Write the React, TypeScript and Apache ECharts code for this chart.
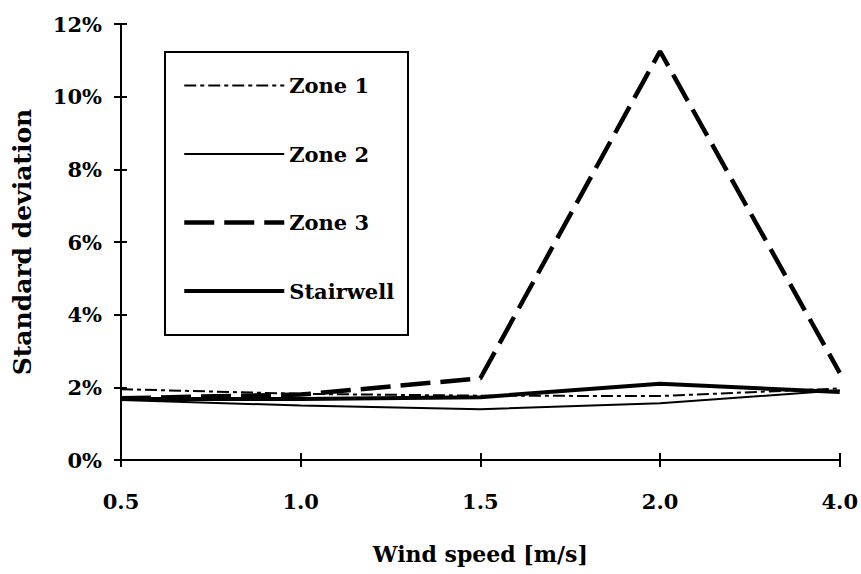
import React, { useEffect, useRef } from "react";
import * as echarts from "echarts";

const categories = ["0.5", "1.0", "1.5", "2.0", "4.0"];
const zone1 = [1.95, 1.82, 1.77, 1.76, 1.97];
const zone2 = [1.65, 1.5, 1.4, 1.56, 1.92];
const zone3 = [1.7, 1.8, 2.25, 11.25, 2.4];
const stairwell = [1.68, 1.68, 1.73, 2.1, 1.87];
const seriesNames = ["Zone 1", "Zone 2", "Zone 3", "Stairwell"];

const FONT = "DejaVu Serif";

export default function App() {
  const ref = useRef<HTMLDivElement>(null);
  useEffect(() => {
    if (!ref.current) return;
    const chart = echarts.init(ref.current, null, { renderer: "svg" });
    const axisText = { color: "#000", fontFamily: FONT, fontWeight: "bold" as const, fontSize: 21 };
    const styles: Record<string, any> = {
      "Zone 1": { color: "#000", width: 2, type: [12, 4, 4, 4] },
      "Zone 2": { color: "#000", width: 2, type: "solid" },
      "Zone 3": { color: "#000", width: 4.5, type: [30, 10] },
      Stairwell: { color: "#000", width: 4, type: "solid" },
    };
    const seriesData: Record<string, number[]> = {
      "Zone 1": zone1,
      "Zone 2": zone2,
      "Zone 3": zone3,
      Stairwell: stairwell,
    };
    const option = {
      animation: false,
      backgroundColor: "#fff",
      grid: { left: 121, right: 21, top: 24, bottom: 114, containLabel: false },
      legend: {
        orient: "vertical",
        left: 182,
        top: 75,
        padding: 0,
        itemWidth: 100,
        itemHeight: 20,
        itemGap: 47.5,
        itemStyle: { opacity: 0 },
        textStyle: { ...axisText, fontSize: 21, lineHeight: 20 },
        data: seriesNames.map((n) => ({ name: n, lineStyle: { ...styles[n] } })),
      },
      graphic: [
        {
          type: "rect",
          shape: { x: 165, y: 52, width: 243, height: 283 },
          style: { fill: "none", stroke: "#000", lineWidth: 2 },
          z: 100,
        },
      ],
      xAxis: [
        {
          type: "category",
          data: categories,
          boundaryGap: false,
          name: "Wind speed [m/s]",
          nameLocation: "middle",
          nameGap: 83,
          nameTextStyle: { ...axisText, fontSize: 22 },
          axisLine: { lineStyle: { color: "#000", width: 2 } },
          axisTick: { show: true, length: 7, lineStyle: { color: "#000", width: 2 } },
          axisLabel: { ...axisText, margin: 31 },
          splitLine: { show: false },
        },
        {
          type: "category",
          data: categories,
          boundaryGap: false,
          position: "bottom",
          axisLine: { show: false },
          axisTick: { show: true, inside: true, length: 7, lineStyle: { color: "#000", width: 2 } },
          axisLabel: { show: false },
          splitLine: { show: false },
        },
      ],
      yAxis: [
        {
          type: "value",
          min: 0,
          max: 12,
          interval: 2,
          name: "Standard deviation",
          nameLocation: "middle",
          nameGap: 86,
          nameTextStyle: { ...axisText, fontSize: 25 },
          axisLine: { show: true, lineStyle: { color: "#000", width: 2 } },
          axisTick: { show: true, length: 7, lineStyle: { color: "#000", width: 2 } },
          axisLabel: { ...axisText, margin: 19, formatter: "{value}%" },
          splitLine: { show: false },
        },
        {
          type: "value",
          min: 0,
          max: 12,
          interval: 2,
          position: "left",
          axisLine: { show: false },
          axisTick: { show: true, inside: true, length: 6, lineStyle: { color: "#000", width: 2 } },
          axisLabel: { show: false },
          splitLine: { show: false },
        },
      ],
      series: seriesNames.map((n) => ({
        name: n,
        type: "line",
        data: seriesData[n],
        symbol: "none",
        lineStyle: { ...styles[n] },
        itemStyle: { color: "#000" },
      })),
    };
    chart.setOption(option as any);
    return () => chart.dispose();
  }, []);
  return (
    <div
      ref={ref}
      style={{ position: "absolute", left: 0, top: 0, width: 861, height: 574, background: "#fff" }}
    />
  );
}
